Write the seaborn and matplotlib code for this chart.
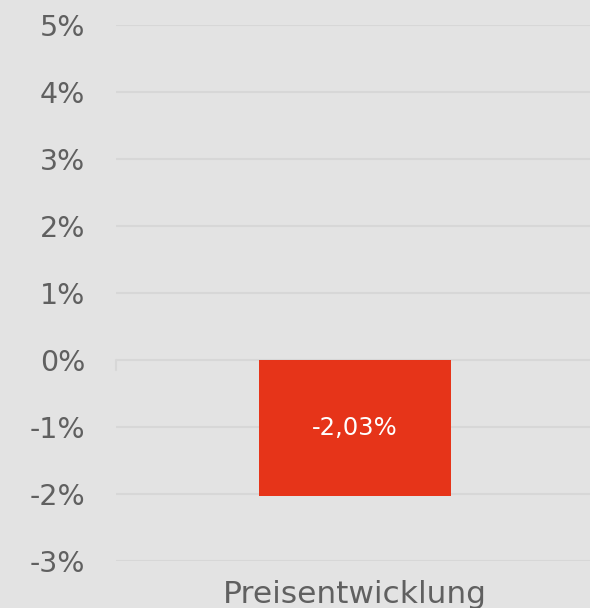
import matplotlib
matplotlib.use("Agg")
import matplotlib.pyplot as plt
import seaborn as sns
import pandas as pd
from matplotlib.ticker import FuncFormatter

categories = ["Preisentwicklung"]
values = [-2.03]
value_labels = ["-2,03%"]
y_ticks = [-3, -2, -1, 0, 1, 2, 3, 4, 5]

sns.set_theme(style="white")
plt.rcParams["font.family"] = ["DejaVu Sans"]

bg = "#e3e3e3"
grid_c = "#d7d7d7"
text_c = "#606060"
bar_c = "#e63419"

df = pd.DataFrame({"cat": categories, "val": values})

fig = plt.figure(figsize=(5.9, 6.08), dpi=100, facecolor=bg)
ax = fig.add_axes([116/590, 1-561/608, (594-116)/590, (561-25)/608])
ax.set_facecolor(bg)

sns.barplot(data=df, x="cat", y="val", color=bar_c, width=0.4, ax=ax,
            saturation=1, linewidth=0, edgecolor=bar_c, zorder=3)

ax.set_ylim(-3, 5)
ax.set_xlim(-0.5, 0.5)
ax.set_yticks(y_ticks)
ax.yaxis.set_major_formatter(FuncFormatter(lambda v, p: f"{int(v)}%"))
ax.grid(axis="y", color=grid_c, linewidth=1.5, zorder=0)
ax.set_axisbelow(True)
for s in ax.spines.values():
    s.set_visible(False)
ax.tick_params(axis="y", length=0, pad=22, labelsize=20.5, labelcolor=text_c)
ax.tick_params(axis="x", length=0, pad=14, labelsize=22.5, labelcolor=text_c)
ax.set_xlabel("")
ax.set_ylabel("")

# small tick at the left end of the zero line
ax.annotate("", xy=(0, 0), xycoords=("axes fraction", "data"),
            xytext=(0, -10), textcoords="offset pixels",
            arrowprops=dict(arrowstyle="-", color=grid_c, lw=1.5,
                            shrinkA=0, shrinkB=0))

for p, lab in zip(ax.patches, value_labels):
    cx = p.get_x() + p.get_width() / 2
    cy = p.get_y() + p.get_height() / 2
    ax.text(cx, cy, lab, ha="center", va="center", color="white",
            fontsize=17.5, zorder=4)

fig.savefig("out.png", dpi=100, facecolor=bg)
